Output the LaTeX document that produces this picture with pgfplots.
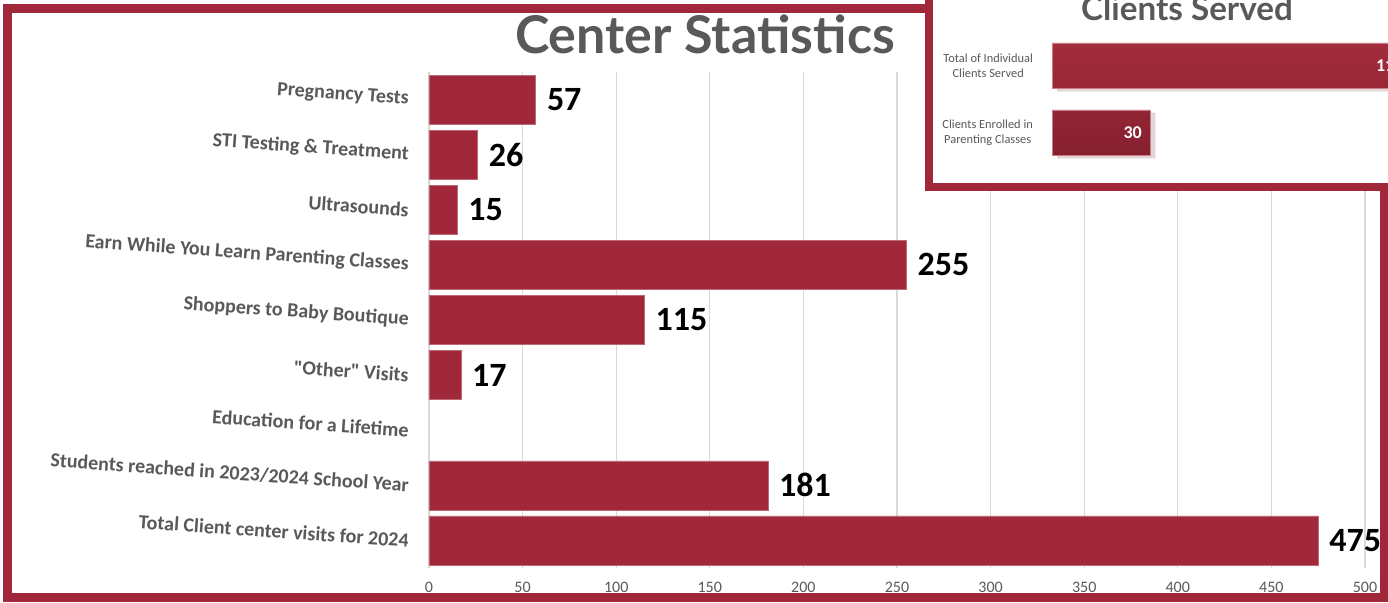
\documentclass[border=0pt]{standalone}
\usepackage{fontspec}
\setmainfont{Carlito}[Ligatures=TeXOff]
\newfontfamily\latofont{Lato}
\usepackage{pgfplots}
\pgfplotsset{compat=1.18}
\usetikzlibrary{shadows}
\definecolor{barred}{HTML}{A1283A}
\definecolor{bartop}{HTML}{A32C3C}
\definecolor{barbot}{HTML}{86202F}
\definecolor{txtgray}{HTML}{595959}
\definecolor{gridgray}{HTML}{D9D9D9}
\begin{document}
\begin{tikzpicture}[x=0.5pt,y=0.5pt]
\path[use as bounding box] (0,0) rectangle (1388,602);
\clip (0,0) rectangle (1388,602);
\fill[white] (0,0) rectangle (1388,602);
\node[font=\latofont\bfseries\fontsize{26}{28}\selectfont, text=txtgray, anchor=base] at (705,549) {Center Statistics};
\begin{axis}[
  at={(214.5pt,17pt)}, anchor=south west,
  scale only axis, width=468pt, height=248pt,
  xbar, bar width=0.89,
  xmin=0, xmax=500, ymin=-0.5, ymax=8.5, y dir=reverse,
  ytick={0,...,8},
  yticklabels={Pregnancy Tests, STI Testing \& Treatment, Ultrasounds, Earn While You Learn Parenting Classes, Shoppers to Baby Boutique, {"Other" Visits}, Education for a Lifetime, Students reached in 2023/2024 School Year, Total Client center visits for 2024},
  xtick={0,50,...,500},
  major tick length=0pt,
  axis line style={draw=none},
  xmajorgrids, grid style={gridgray, line width=0.6pt},
  /pgf/number format/assume math mode=true,
  xticklabel style={font=\fontsize{8}{9}\selectfont, text=txtgray, yshift=-3.5pt},
  yticklabel style={font=\bfseries\fontsize{10}{12}\selectfont, text=txtgray, inner sep=0pt, anchor=east, rotate=-4},
  yticklabel shift=10pt,
  clip=false,
  nodes near coords,
  every node near coord/.append style={font=\bfseries\fontsize{17}{18}\selectfont, text=black, anchor=west, inner sep=0pt, xshift=5.5pt},
]
\addplot[fill=barred, draw=barred!70!white, line width=0.3pt] coordinates {(57,0) (26,1) (15,2) (255,3) (115,4) (17,5) (181,7) (475,8)};
\end{axis}
\draw[barred, line width=4.5pt] (7,593.5) rectangle (1384.5,4.5);
\fill[white] (929,415) rectangle (1400,620);
\draw[barred, line width=4pt] (929,415) rectangle (1400,620);
\node[font=\latofont\bfseries\fontsize{16.6}{18}\selectfont, text=txtgray, anchor=base] at (1187,582) {Clients Served};
\begin{axis}[
  at={(526pt,218pt)}, anchor=south west,
  scale only axis, width=163.5pt, height=67pt,
  xbar, bar width=0.672,
  xmin=0, xmax=100, ymin=-0.5, ymax=1.5, y dir=reverse,
  ytick={0,1},
  yticklabels={{Total of Individual\\Clients Served},{Clients Enrolled in\\Parenting Classes}},
  xtick=\empty,
  major tick length=0pt,
  axis line style={draw=none},
  /pgf/number format/assume math mode=true,
  yticklabel style={font=\fontsize{6.2}{7.6}\selectfont, text=txtgray, align=center, anchor=east},
  yticklabel shift=6pt,
  clip=false,
  nodes near coords,
  every node near coord/.append style={font=\bfseries\fontsize{9}{10}\selectfont, text=white, anchor=east, inner sep=0pt, xshift=-4pt},
]
\addplot[top color=bartop, bottom color=barbot, draw=barred!60!white, line width=0.3pt,
  drop shadow={shadow xshift=2.5pt, shadow yshift=-1.5pt, opacity=0.12, fill=gray}] coordinates {(110,0) (30,1)};
\end{axis}
\end{tikzpicture}
\end{document}
